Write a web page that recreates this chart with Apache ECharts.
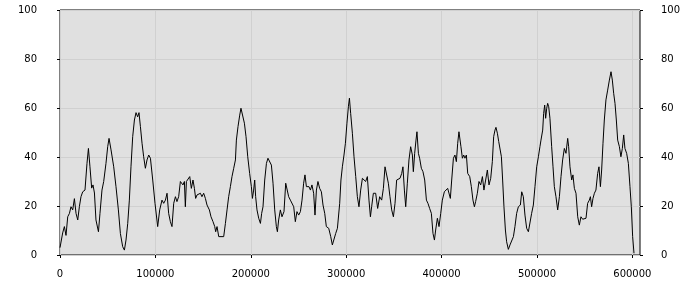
<!DOCTYPE html>
<html><head><meta charset="utf-8">
<script src="https://cdn.jsdelivr.net/npm/echarts@6/dist/echarts.min.js"></script>
<style>html,body{margin:0;padding:0;background:#fff}#c{width:700px;height:300px}</style>
</head><body><div id="c"></div>
<script>
const xTicks = [0, 100000, 200000, 300000, 400000, 500000, 600000];
const yTicks = [0, 20, 40, 60, 80, 100];
const xs = [0,2800,4600,6300,8100,9900,11500,13300,15100,16800,18600,20300,22000,23800,26200,28300,29800,31400,33200,34600,36100,37700,40300,41900,44000,45800,48200,50000,51400,53500,56300,58700,61200,63300,65700,67500,69200,71000,72700,74400,76200,78000,79700,81400,82800,84300,86000,87700,89500,91200,93000,94800,97200,99600,102400,104500,106900,108700,110500,112200,113900,115700,117400,119200,121000,122600,124400,126200,127900,128900,130400,131400,132500,134200,136000,137700,139400,140900,142200,143600,145400,147200,148800,150600,152400,154100,156600,158300,160400,162200,163200,164600,166400,171600,173400,175100,176800,178600,180300,182100,183900,184900,186600,188400,189700,191500,193300,195000,196800,198800,200600,201700,203000,204100,205100,206500,208300,210100,211400,212800,214600,216400,218000,219800,221600,223300,225100,226800,227900,229200,231000,232700,234800,236600,237900,239700,241500,243200,245000,246700,248400,250200,252000,253700,255400,256800,258300,261000,262500,264100,265900,267300,268800,270400,272200,274000,275700,277500,279200,281700,283800,285500,287200,289000,290800,292100,293200,294500,296000,297700,299200,300800,302300,303400,304700,306500,308200,310000,311700,313400,315200,317000,318700,320400,322200,323900,325400,326700,328500,330900,333000,335100,337200,339000,340700,342500,344200,345900,347700,349500,351200,352900,354700,356400,358200,359500,361000,362400,364100,365800,367600,369400,370400,371800,373200,374200,375700,377000,378800,380500,382300,384100,385700,387500,389300,391000,392500,393800,395600,397300,399100,400800,402900,406400,407700,409200,410600,412400,414000,415500,416900,418200,419300,420300,421800,423200,424500,426000,427400,429500,431200,432900,434400,435700,437500,439200,441000,442800,444400,446200,448000,449700,451500,453200,454600,456000,457000,458500,459900,461200,462700,464000,465400,466900,468200,470000,471700,473500,475300,476900,478700,480500,482600,484000,485700,487400,489200,491000,492700,494400,496200,497900,499700,501500,503100,504200,506000,507000,508100,509100,510200,511200,512300,513600,515400,516800,518200,519900,521700,523500,525200,526900,528700,530400,532200,533200,534600,536400,537700,539200,540900,542700,544400,546100,547900,551400,553100,554900,556000,557300,558700,560200,561800,563600,565000,566500,567800,569200,570600,572300,574100,575900,577600,579000,580400,581800,583200,584600,586400,588000,589500,590900,592200,594000,595800,597500,598900,600300,601700];
const ys = [3,9,11.6,8,15.6,17,19.7,18.4,23,17,14.3,19.7,23.8,25.8,26.5,37.4,43.5,36,27.3,28.6,25.3,14.3,9.5,17,26.5,30,37.4,44.2,47.6,42.9,36,27.9,18.4,8.8,3.4,2,6.1,12.9,22.4,36,48.3,55.1,58.1,56.4,58.1,52.4,45.6,40.1,35.4,38.8,40.8,39.5,30.6,21.1,11.6,18.4,22.4,21.1,22.4,25.2,17,13.6,11.6,21.1,23.8,21.8,23.8,30,30.6,28.6,30,19.7,30,30.6,32,27.2,30.6,27.2,23.1,24.5,23.8,25.2,23.8,25.2,23.1,20.4,18.4,15.6,13.6,11.6,9.5,11.6,7.5,7.5,12.9,18.4,23.8,27.9,32,35.4,38.8,46.9,52.4,57.1,59.9,59.9,53.8,48.3,40.1,33.3,27.9,23.1,26.5,30.6,23.8,18.4,15,12.9,17,19.7,30.6,37.4,39.5,40.1,36.7,29.3,18.4,11.6,9.5,14.3,18.4,15.6,17.7,29.3,28.6,23.8,22.4,21.8,19.7,13.6,17.7,16.3,17.7,22.4,29.3,32.7,27.9,27.9,26.5,28.6,25.2,16.3,26.5,30,27.2,25.8,20.4,17,11.6,10.9,7.5,4.1,4.1,8.8,10.9,11.6,21.1,30.6,36,40.8,45.6,53.8,60.5,64,57.8,49.7,40.1,32,23.8,19.7,26.5,31.3,32,30,32,22.4,15.6,19.7,25.2,25.2,19,23.8,22.4,27.2,36,35.4,29.3,23.8,18.4,15.6,21.1,30.6,30,31.3,33.3,36,26.5,19.7,29.3,38.8,44.2,40.8,34,41.5,46.9,50.3,41.5,39.5,35.4,34,30.6,22.4,21.1,19,17,8.8,6.1,10.2,15,11.6,17,22.4,25.8,27.2,26.5,23.1,30.6,39.5,40.8,38.1,45.6,50.3,51,44.2,39.5,40.8,39.5,40.8,33.3,32,27.9,22.4,19.7,21.8,25.2,30,28.6,32,26.5,30.6,34.7,28.6,31.3,38.1,48.3,51,52.1,49.7,46.3,46.9,40.1,30.6,19.7,10.2,5.4,2.3,4.1,4.8,7.5,11.6,17,19.7,20.4,25.8,23.8,16.3,10.9,9.5,10.2,17,20.4,27.9,36,40.1,44.2,46.9,51,57.8,61.2,55.8,59.9,61.9,60.5,55.8,44.2,36,27.9,23.8,18.4,23.8,32,38.8,43.5,41.5,47.6,44.2,36,30.6,32.7,27.2,25.2,15.6,12.2,15.6,14.6,15,21.1,22.4,23.8,19.7,23.1,25.2,26.5,33.3,36,27.9,34.7,45.6,55.1,63.3,67.3,71.4,74.8,71.4,66,61.9,55.1,46.9,44.2,40.1,43.5,49,43.5,41.5,37.4,27.9,19.7,7.5,0.7];
const xMax = 608000;

const data = xs.map((x, i) => [x, ys[i]]);
const chart = echarts.init(document.getElementById('c'), null, {renderer: 'canvas'});
const font = {fontFamily: 'DejaVu Sans', fontSize: 10, color: '#000'};
const plain = v => String(v);
const yAxisBase = {
  type: 'value', min: 0, max: 100, interval: 20,
  axisLine: {show: false},
  axisTick: {show: true, inside: false, length: 3, lineStyle: {color: '#000'}},
  splitLine: {show: true, lineStyle: {color: '#d0d0d0', width: 1}}
};
chart.setOption({
  animation: false,
  grid: {left: 60, right: 60, top: 10, bottom: 45, show: true, backgroundColor: '#e0e0e0', borderColor: '#000', borderWidth: 1, containLabel: false},
  xAxis: {
    type: 'value', min: 0, max: xMax,
    axisLine: {show: false, onZero: false},
    axisTick: {show: true, length: 3, customValues: xTicks, lineStyle: {color: '#000'}},
    axisLabel: Object.assign({margin: 14, customValues: xTicks, formatter: plain}, font),
    splitLine: {show: true, lineStyle: {color: '#d0d0d0', width: 1}}
  },
  yAxis: [
    Object.assign({}, yAxisBase, {position: 'left', axisLabel: Object.assign({margin: 23, align: 'right', formatter: plain}, font)}),
    Object.assign({}, yAxisBase, {position: 'right', splitLine: {show: false}, axisLabel: Object.assign({margin: 21, align: 'left', formatter: plain}, font)})
  ],
  series: [{
    type: 'line', data: data, showSymbol: false, symbol: 'none',
    lineStyle: {color: '#000', width: 1}, yAxisIndex: 0
  }]
});
</script></body></html>
